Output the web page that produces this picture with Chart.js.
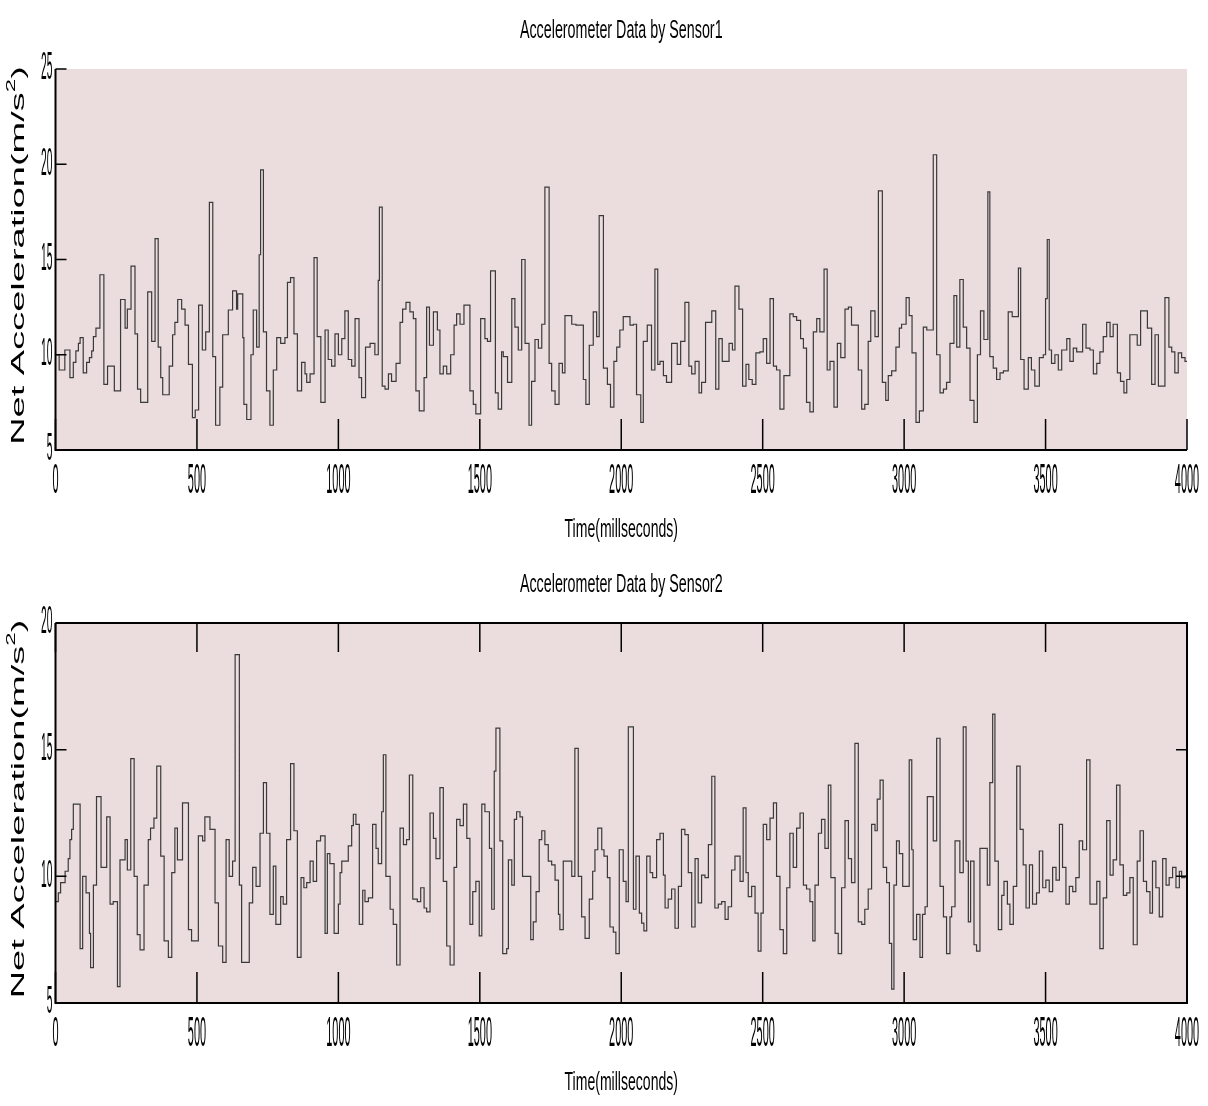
<!DOCTYPE html>
<html><head><meta charset="utf-8">
<script src="https://cdn.jsdelivr.net/npm/chart.js@4.4.1/dist/chart.umd.min.js"></script>
<style>
html,body{margin:0;padding:0;background:#fff;}
.wrap{position:absolute;left:0;width:1208px;height:553px;}
</style></head><body>
<div class="wrap" style="top:0"><canvas id="c1" width="1208" height="553"></canvas></div>
<div class="wrap" style="top:553px"><canvas id="c2" width="1208" height="553"></canvas></div>
<script>
// ---------- DATA ----------
const time1 = [0,13,33,51,63,72,81,87,98,110,120,128,134,143,157,171,184,208,230,246,254,267,281,290,301,326,340,352,363,372,379,402,414,422,432,446,458,470,484,494,506,519,531,544,556,566,581,591,611,626,640,644,662,666,676,691,699,711,720,725,735,746,758,770,782,796,811,820,831,843,855,870,882,888,900,914,925,938,953,964,976,988,1000,
1012,1023,1035,1047,1059,1073,1082,1096,1112,1129,1141,1145,1155,1165,1177,1188,1204,1218,1227,1239,1253,1265,1274,1286,1303,1312,1322,1336,1350,1359,1371,1383,1397,1409,1418,1430,1444,1465,1477,1486,1503,1518,1527,1538,1555,1565,1577,1583,1598,1613,1624,1636,1648,1660,1674,1683,1695,1707,1719,1730,1745,1754,1766,1780,1792,1801,1825,1840,1866,1875,1887,1901,1913,1922,1937,1951,1962,1974,1984,1995,2007,
2031,2043,2054,2069,2078,2092,2107,2119,2129,2137,2149,2160,2178,2198,2210,2225,2239,2249,2261,2275,2284,2298,2320,2334,2345,2357,2381,2393,2402,2416,2429,2441,2451,2463,2476,2490,2502,2514,2526,2538,2549,2561,2575,2596,2608,2620,2634,2644,2655,2667,2679,2691,2702,2717,2728,2738,2752,2764,2776,2791,2803,2814,2838,2850,2861,2873,2882,2897,2909,2923,2935,2944,2956,2971,2983,2991,
3007,3018,3028,3042,3054,3068,3080,3103,3115,3127,3139,3150,3162,3176,3186,3197,3209,3221,3233,3247,3259,3270,3282,3296,3303,3315,3327,3339,3351,3368,3382,3404,3412,3424,3439,3450,3462,3478,3492,3500,3506,3513,3521,3533,3545,3557,3575,3586,3598,3610,3631,3643,3657,3669,3681,3692,3704,3716,3728,3739,3754,3765,3777,3787,3798,3824,3836,3860,3875,3887,3899,3922,3936,3946,3957,3969,3981,3993,4000];
const accel1 = [10.0,9.2,10.25,8.8,9.6,10.2,10.6,10.9,9.05,9.6,9.85,10.2,10.95,11.4,14.2,8.45,9.4,8.1,12.9,11.4,12.4,14.65,11.1,8.2,7.5,13.3,10.7,16.1,10.4,8.8,7.9,9.4,11.05,11.7,12.9,12.4,11.55,9.5,6.7,7.1,12.6,10.25,11.2,18.0,9.9,6.3,8.3,11.05,12.35,13.35,12.4,13.2,10.9,7.4,6.6,10.0,12.35,10.4,15.25,19.7,11.2,8.1,6.3,9.2,10.9,10.6,10.9,13.8,14.05,11.1,8.1,9.6,9.0,8.55,9.0,15.1,10.95,7.5,11.3,9.75,9.4,11.1,10.0,
10.85,12.3,9.75,9.4,11.9,8.8,7.75,10.4,10.6,10.0,13.9,17.75,8.35,8.2,9.0,8.6,9.55,11.7,12.4,12.75,12.25,11.9,8.1,7.05,8.8,12.5,10.5,12.25,11.3,9.0,9.4,9.0,10.0,11.55,12.15,11.6,12.6,8.1,7.4,6.9,11.9,10.85,10.7,14.4,8.0,7.15,10.15,9.9,8.55,12.95,11.45,10.25,15.0,10.6,6.3,8.6,10.8,10.35,11.6,18.8,9.55,8.1,7.4,9.55,9.05,12.05,11.6,11.55,8.7,7.4,10.5,12.25,10.95,17.3,9.3,8.45,7.25,9.65,10.4,11.3,12.0,
11.55,11.6,7.9,6.45,10.7,11.55,9.2,14.5,9.5,9.65,8.9,8.55,10.6,9.5,10.7,12.75,9.4,9.0,9.65,8.0,8.55,11.7,12.3,8.2,10.85,9.65,10.6,10.25,13.6,12.4,8.35,9.5,8.7,8.45,10.1,10.15,10.85,9.55,12.95,9.4,9.2,7.15,8.9,12.15,12.0,11.8,10.85,10.35,7.5,7.0,11.2,11.9,11.2,14.5,9.2,9.65,7.25,10.6,9.85,12.4,12.5,11.55,9.2,7.15,7.4,10.7,12.3,10.95,18.6,8.55,7.6,8.9,9.15,10.4,11.4,11.6,
13.0,12.05,10.1,6.45,7.05,11.45,11.3,20.5,10.0,8.0,8.2,8.55,10.6,13.1,10.4,13.95,11.45,10.35,7.6,6.45,10.0,12.3,10.8,18.55,9.9,9.3,8.7,9.05,9.15,12.25,12.0,14.55,9.75,8.2,9.85,9.2,8.35,9.85,10.0,12.95,16.05,10.25,9.55,10.0,9.2,10.25,10.85,9.65,10.35,10.15,11.6,10.35,10.25,9.0,9.55,10.15,10.95,11.7,10.95,11.6,9.05,8.6,8.0,8.7,11.05,10.5,12.3,11.4,8.45,11.05,8.35,13.0,10.4,10.15,9.05,10.1,9.85,9.65,9.65];

const time2 = [0,10,18,34,45,51,57,63,87,96,108,120,124,134,145,161,181,193,204,219,228,246,254,266,278,289,299,313,328,336,348,358,372,384,399,411,422,431,449,470,481,505,520,528,546,564,576,591,603,614,626,635,650,658,685,697,709,723,735,746,758,770,779,796,805,817,831,843,855,868,878,888,900,911,923,937,953,961,970,985,1000,
1006,1012,1035,1047,1053,1062,1074,1086,1094,1106,1121,1133,1141,1153,1159,1168,1183,1194,1206,1218,1230,1241,1251,1263,1279,1291,1303,1312,1324,1336,1345,1359,1371,1383,1395,1409,1418,1430,1442,1454,1465,1475,1486,1498,1507,1518,1534,1542,1551,1557,1571,1581,1595,1601,1613,1622,1630,1642,1651,1680,1689,1699,1710,1719,1730,1742,1754,1766,1778,1783,1795,1825,1836,1848,1860,1872,1887,1899,1907,1917,1931,1939,1951,1960,1972,1981,1993,2007,2017,2025,
2043,2052,2064,2072,2080,2090,2102,2111,2125,2137,2149,2155,2166,2178,2190,2202,2213,2225,2237,2249,2261,2272,2284,2296,2308,2320,2331,2343,2355,2367,2378,2390,2402,2420,2431,2441,2449,2461,2473,2484,2494,2502,2514,2526,2538,2549,2561,2573,2585,2596,2608,2620,2632,2644,2655,2667,2677,2685,2697,2708,2720,2732,2741,2756,2767,2779,2791,2803,2814,2826,2838,2850,2861,2873,2885,2897,2905,2915,2926,2938,2948,2956,2964,2973,2983,2995,
3018,3027,3032,3044,3056,3065,3074,3082,3103,3115,3127,3139,3150,3162,3168,3180,3197,3209,3219,3227,3235,3247,3256,3268,3294,3303,3313,3321,3333,3345,3353,3365,3374,3386,3398,3410,3421,3431,3443,3454,3468,3478,3490,3501,3513,3525,3537,3549,3560,3572,3584,3596,3607,3619,3631,3645,3657,3681,3692,3704,3716,3728,3739,3751,3763,3775,3787,3798,3810,3824,3834,3846,3857,3869,3878,3890,3902,3914,3926,3937,3949,3961,3973,3981,3993,4000];
const accel2 = [9.0,9.35,9.75,10.2,10.7,11.45,11.85,12.85,7.15,10.0,9.35,7.75,6.4,9.65,13.15,10.35,12.35,8.9,9.0,5.65,10.65,11.45,10.25,14.65,10.0,7.7,7.1,9.65,11.45,11.9,12.3,14.35,10.8,7.45,6.8,10.15,11.9,10.65,12.9,7.9,7.45,11.6,11.4,12.35,11.85,8.95,7.25,6.6,11.45,10.0,10.6,18.75,9.65,6.6,8.95,10.35,9.6,11.7,13.7,11.7,8.5,10.4,8.1,9.2,8.9,11.45,14.45,11.8,6.8,9.95,9.55,9.75,10.6,9.8,11.4,11.6,7.75,10.9,10.5,7.75,8.9,
10.15,10.6,11.2,12.0,12.45,12.05,8.1,9.45,9.0,9.15,12.05,11.1,10.5,12.55,14.8,10.0,8.7,8.1,6.5,11.9,11.25,11.45,14.0,9.1,9.0,9.55,8.75,8.6,12.5,11.5,10.7,13.5,9.8,7.25,6.5,10.35,12.25,12.0,12.85,11.5,8.1,9.4,9.8,7.65,12.85,12.55,11.1,8.7,14.15,15.85,11.4,6.95,7.15,10.65,9.65,12.25,12.55,12.35,10.0,7.5,8.2,9.4,11.45,11.8,11.25,10.6,10.45,9.85,8.5,7.9,10.6,10.0,15.05,10.0,8.4,7.55,9.1,10.2,11.05,11.9,11.05,10.8,9.95,8.0,7.8,6.95,11.05,9.8,9.0,15.9,
8.7,10.8,8.55,8.15,7.85,10.8,10.15,9.95,11.45,11.7,10.05,8.75,9.1,9.5,7.95,9.6,11.85,11.65,10.15,8.0,10.7,8.95,10.05,9.95,11.25,13.95,8.75,8.9,9.0,8.3,8.8,10.25,10.8,9.8,12.7,10.15,9.2,9.6,8.55,7.05,8.55,12.05,11.45,12.3,12.9,10.0,7.9,6.95,9.55,11.7,10.35,11.9,12.5,9.65,9.5,9.0,7.45,9.65,11.7,12.25,11.1,13.6,9.95,7.75,6.95,9.55,12.2,10.7,9.75,15.25,8.2,8.1,8.7,9.5,12.05,11.8,13.05,13.8,10.35,9.75,7.35,5.55,9.65,11.4,10.9,9.6,
14.6,11.05,7.5,8.5,6.8,8.5,8.8,13.15,11.4,15.45,9.6,8.4,6.95,8.4,8.8,11.4,10.15,15.9,10.6,8.2,10.6,7.3,7.05,11.1,9.65,13.7,16.4,10.6,7.9,9.25,9.8,8.9,8.1,9.6,14.35,11.85,10.45,8.75,10.45,8.9,9.35,11.0,9.55,9.85,9.4,10.35,9.85,12.05,10.35,8.9,9.6,9.4,9.95,11.4,11.05,14.6,8.9,9.8,7.15,9.15,12.2,10.05,10.65,13.6,10.45,9.25,9.35,9.95,7.3,10.6,11.8,9.8,9.4,8.55,10.6,9.55,8.4,10.7,9.65,9.95,10.35,9.55,10.2,9.95,10.0,10.0];

const xTickValues = [0,500,1000,1500,2000,2500,3000,3500,4000];
const yTickValues1 = [5,10,15,20,25];
const yTickValues2 = [5,10,15,20];
const chartTitles = ["Accelerometer Data by Sensor1", "Accelerometer Data by Sensor2"];
const xAxisTitle = "Time(millseconds)";
const yAxisTitleMain = "Net Acceleration(m/s";
const yAxisTitleSup = "2";
const yAxisTitleEnd = ")";

// ---------- STYLE ----------
const FONT = '"Liberation Sans", Arial, Helvetica, sans-serif';
const PLOT_BG = '#ebdcdd';

function drawText(ctx, text, x, y, size, sx, align, baseline) {
  ctx.save();
  ctx.translate(x, y);
  ctx.scale(sx, 1);
  ctx.font = size + 'px ' + FONT;
  ctx.fillStyle = '#000';
  ctx.textAlign = align;
  ctx.textBaseline = baseline;
  ctx.fillText(text, 0, 0);
  ctx.restore();
}

function drawYTitle(ctx, cx, cy) {
  ctx.save();
  ctx.translate(cx, cy);
  ctx.rotate(-Math.PI / 2);
  ctx.scale(2.0, 1);
  ctx.fillStyle = '#000';
  ctx.textBaseline = 'middle';
  ctx.textAlign = 'left';
  const big = '19px ' + FONT, small = '12px ' + FONT;
  ctx.font = big;
  const w1 = ctx.measureText(yAxisTitleMain).width;
  const w3 = ctx.measureText(yAxisTitleEnd).width;
  ctx.font = small;
  const w2 = ctx.measureText(yAxisTitleSup).width;
  let x = -(w1 + w2 + w3) / 2;
  ctx.font = big; ctx.fillText(yAxisTitleMain, x, 0); x += w1;
  ctx.font = small; ctx.fillText(yAxisTitleSup, x, -7); x += w2;
  ctx.font = big; ctx.fillText(yAxisTitleEnd, x, 0);
  ctx.restore();
}

function matlabPlugin(title, yTicks, box) {
  return {
    id: 'matlabAxes',
    beforeDatasetsDraw(chart) {
      const { ctx, chartArea: a } = chart;
      ctx.save();
      ctx.fillStyle = PLOT_BG;
      ctx.fillRect(a.left, a.top, a.right - a.left, a.bottom - a.top);
      ctx.restore();
    },
    afterDraw(chart) {
      const { ctx, chartArea: a } = chart;
      const xs = chart.scales.x, ys = chart.scales.y;
      ctx.save();
      ctx.strokeStyle = '#000';
      ctx.lineWidth = 2;
      ctx.beginPath();
      ctx.moveTo(a.left, a.top); ctx.lineTo(a.left, a.bottom); ctx.lineTo(a.right, a.bottom);
      if (box) { ctx.lineTo(a.right, a.top); ctx.lineTo(a.left, a.top); }
      ctx.stroke();
      ctx.lineWidth = 1.5;
      ctx.beginPath();
      xTickValues.forEach(v => {
        const px = xs.getPixelForValue(v);
        ctx.moveTo(px, a.bottom); ctx.lineTo(px, a.bottom - 31);
        if (box) { ctx.moveTo(px, a.top); ctx.lineTo(px, a.top + 29); }
      });
      yTicks.forEach(v => {
        const py = ys.getPixelForValue(v);
        ctx.moveTo(a.left, py); ctx.lineTo(a.left + 11, py);
        if (box) { ctx.moveTo(a.right, py); ctx.lineTo(a.right - 11, py); }
      });
      ctx.stroke();
      ctx.restore();

      xTickValues.forEach(v => {
        drawText(ctx, String(v), xs.getPixelForValue(v), a.bottom + 31, 42, 0.26, 'center', 'middle');
      });
      yTicks.forEach(v => {
        drawText(ctx, String(v), a.left - 3, ys.getPixelForValue(v), 38, 0.27, 'right', 'middle');
      });
      const cx = (a.left + a.right) / 2;
      drawText(ctx, title, cx, a.top - 38, 26, 0.55, 'center', 'middle');
      drawText(ctx, xAxisTitle, cx, a.bottom + 80, 26, 0.54, 'center', 'middle');
      drawYTitle(ctx, 19, (a.top + a.bottom) / 2 - 4);
    }
  };
}

function makeChart(id, times, values, yMin, yMax, title, yTicks, box, pad) {
  const pts = times.map((t, i) => ({ x: t, y: values[i] }));
  return new Chart(document.getElementById(id), {
    type: 'line',
    data: { datasets: [{ data: pts, stepped: true, borderColor: '#3a3a3a', borderWidth: 1.2, pointRadius: 0, fill: false, tension: 0 }] },
    options: {
      responsive: false, animation: false, devicePixelRatio: 1,
      layout: { padding: pad },
      plugins: { legend: { display: false }, tooltip: { enabled: false }, title: { display: false } },
      scales: {
        x: { type: 'linear', min: 0, max: 4000, display: false },
        y: { type: 'linear', min: yMin, max: yMax, display: false }
      }
    },
    plugins: [matlabPlugin(title, yTicks, box)]
  });
}

makeChart('c1', time1, accel1, 5, 25, chartTitles[0], yTickValues1, false, { left: 55.5, right: 21, top: 69, bottom: 103 });
makeChart('c2', time2, accel2, 5, 20, chartTitles[1], yTickValues2, true, { left: 55.5, right: 21, top: 70, bottom: 103 });
</script>
</body></html>
